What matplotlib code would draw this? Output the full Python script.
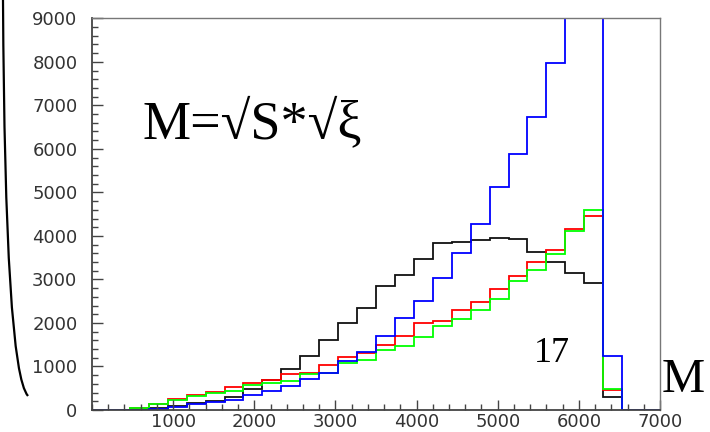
import numpy as np
import matplotlib
matplotlib.use("Agg")
import matplotlib.pyplot as plt
from matplotlib.path import Path
from matplotlib.patches import PathPatch
from matplotlib.ticker import MultipleLocator

# ---- data: 30 bins from 0 to 7000 ----
x_min, x_max, n_bins = 0, 7000, 30
edges = np.linspace(x_min, x_max, n_bins + 1)

black = [0, 0, 5, 40, 90, 150, 200, 295, 485, 689, 941, 1247, 1607, 2005, 2350,
         2855, 3100, 3467, 3826, 3850, 3903, 3957, 3926, 3635, 3405, 3138, 2923, 306, 0, 0]
red = [0, 0, 40, 145, 245, 352, 420, 521, 612, 689, 819, 849, 1040, 1225, 1320,
       1485, 1707, 1990, 2050, 2296, 2487, 2778, 3084, 3405, 3674, 4149, 4461, 450, 0, 0]
green = [0, 0, 50, 130, 237, 321, 385, 430, 570, 620, 660, 826, 840, 1071, 1148,
         1385, 1469, 1684, 1936, 2085, 2296, 2548, 2969, 3214, 3582, 4110, 4584, 482, 0, 0]
blue = [0, 0, 10, 30, 77, 130, 195, 240, 344, 444, 560, 712, 860, 1133, 1340,
        1707, 2105, 2503, 3023, 3597, 4263, 5128, 5878, 6734, 7974, 10500, 12000, 1240, 0, 0]

series = [(black, "#111111"), (red, "#ff0000"), (green, "#00ff00"), (blue, "#0000ff")]

x_ticks = [1000, 2000, 3000, 4000, 5000, 6000, 7000]
y_ticks = [0, 1000, 2000, 3000, 4000, 5000, 6000, 7000, 8000, 9000]

W, H = 710, 432
fig = plt.figure(figsize=(W / 100, H / 100), dpi=100)
ax = fig.add_axes([92 / W, (H - 410) / H, (660 - 92) / W, (410 - 18.3) / H])

for vals, col in series:
    ax.stairs(vals, edges, color=col, lw=1.3, baseline=0)

ax.set_xlim(x_min, x_max)
ax.set_ylim(0, 9000)
ax.set_xticks(x_ticks)
ax.set_yticks(y_ticks)
ax.xaxis.set_minor_locator(MultipleLocator(200))
ax.yaxis.set_minor_locator(MultipleLocator(200))
ax.tick_params(axis="both", which="both", direction="in", top=False, right=False,
               colors="#444444", labelcolor="#333333", labelsize=13)
ax.tick_params(axis="y", which="major", length=8, width=1, pad=10.5)
ax.tick_params(axis="y", which="minor", length=4.5, width=1)
ax.tick_params(axis="x", which="major", length=7, width=1, pad=2.5)
ax.tick_params(axis="x", which="minor", length=4, width=1)
for s in ["left", "bottom"]:
    ax.spines[s].set_color("#444444")
    ax.spines[s].set_linewidth(1.3)
for s in ["top", "right"]:
    ax.spines[s].set_color("#777777")
    ax.spines[s].set_linewidth(1.0)

# annotations
fig.text(143 / W, (H - 138) / H, "M=\u221aS*\u221a\u03be", family="Liberation Serif",
         fontsize=39, color="black", ha="left", va="baseline")
fig.text(534 / W, (H - 362) / H, "17", family="Liberation Serif",
         fontsize=26, color="black", ha="left", va="baseline")
fig.text(662 / W, (H - 392) / H, "M", family="Liberation Serif",
         fontsize=35, color="black", ha="left", va="baseline")

# hand-drawn bracket on the left edge (decoration)
p0, p1, p2 = (3, 0), (5, 370), (28, 396)
verts = [(x / W, (H - y) / H) for x, y in (p0, p1, p2)]
path = Path(verts, [Path.MOVETO, Path.CURVE3, Path.CURVE3])
fig.add_artist(PathPatch(path, transform=fig.transFigure, fill=False,
                         edgecolor="black", lw=1.6))

fig.savefig("out.png", dpi=100)
